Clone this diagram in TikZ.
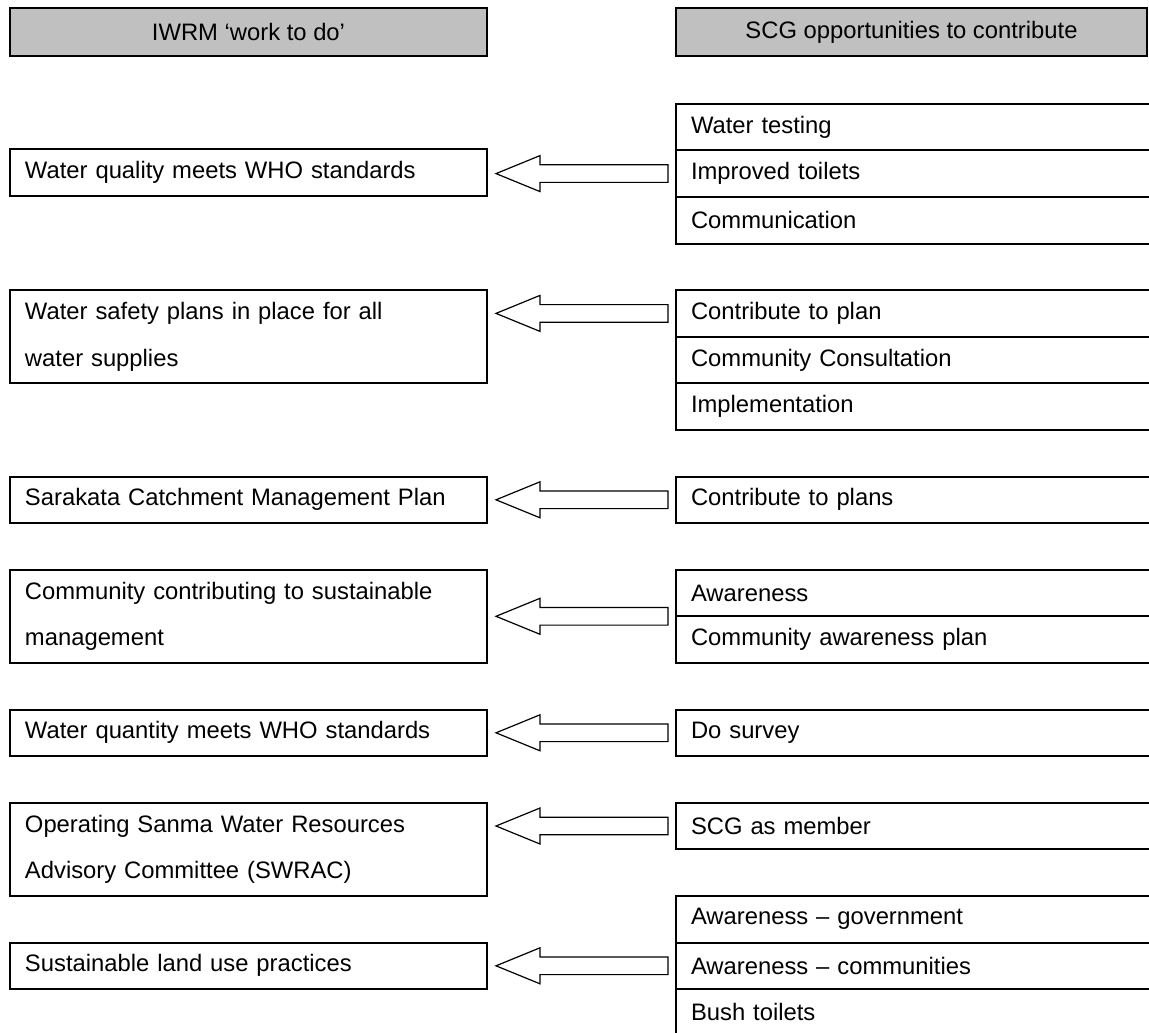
\documentclass[tikz,border=0pt]{standalone}
\usepackage{fontspec}
\setmainfont{Liberation Sans}
\usetikzlibrary{calc}
\definecolor{hdrgray}{HTML}{C0C0C0}
\newcommand\fatarrow[3]{%
  \draw[arrowline] let \p1=(#1.east), \p2=(#2.west), \p3=(#3) in
    (\x1+4pt,\y3) -- (\x1+26pt,\y3+9pt) -- (\x1+26pt,\y3+4.4pt)
    -- (\x2-3.5pt,\y3+4.4pt) -- (\x2-3.5pt,\y3-4.4pt)
    -- (\x1+26pt,\y3-4.4pt) -- (\x1+26pt,\y3-9pt) -- cycle;
}
\begin{document}
\begin{tikzpicture}[x=0.5pt,y=-0.5pt,
  txt/.style={font=\fontsize{11.9pt}{23.3pt}\selectfont},
  box/.style={txt,draw=black,line width=1pt,rectangle,anchor=north west,
    inner xsep=7.5pt,inner ysep=0pt,align=left},
  lbox/.style={box,text width=223.5pt,minimum height=#1},
  rbox/.style={box,text width=227.5pt,minimum height=23.3pt},
  hbox/.style={txt,draw=black,line width=1pt,fill=hdrgray,rectangle,
    anchor=north west,inner sep=0pt,minimum width=#1,minimum height=24pt,align=center},
  arrowline/.style={draw=black,line width=0.6pt,fill=white,line join=miter}
]
\useasboundingbox (0,0) rectangle (1149,1032);
\clip (0,0) rectangle (1149,1032);

% headers
\node[hbox=238.5pt] (H1) at (9,7) {IWRM ‘work to do’};
\node[hbox=235.5pt] (H2) at (675,7) {SCG opportunities to contribute};

% left column
\node[lbox=23.3pt] (L1) at (9,148) {Water quality meets WHO standards};
\node[lbox=46.6pt] (L2) at (9,289.1) {Water safety plans in place for all\\water supplies};
\node[lbox=23.3pt] (L3) at (9,475.5) {Sarakata Catchment Management Plan};
\node[lbox=46.6pt] (L4) at (9,568.7) {Community contributing to sustainable\\management};
\node[lbox=23.3pt] (L5) at (9,708.5) {Water quantity meets WHO standards};
\node[lbox=46.6pt] (L6) at (9,801.7) {Operating Sanma Water Resources\\Advisory Committee (SWRAC)};
\node[lbox=23.3pt] (L7) at (9,941.5) {Sustainable land use practices};

% right column
\node[rbox] (R1a) at (675,102.7) {Water testing};
\node[rbox] (R1b) at (675,149.3) {Improved toilets};
\node[rbox] (R1c) at (675,195.9) {Communication};

\node[rbox] (R2a) at (675,289.1) {Contribute to plan};
\node[rbox] (R2b) at (675,335.7) {Community Consultation};
\node[rbox] (R2c) at (675,382.3) {Implementation};

\node[rbox] (R3) at (675,475.5) {Contribute to plans};

\node[rbox] (R4a) at (675,568.7) {Awareness};
\node[rbox] (R4b) at (675,615.3) {Community awareness plan};

\node[rbox] (R5) at (675,708.5) {Do survey};

\node[rbox] (R6) at (675,801.7) {SCG as member};

\node[rbox] (R7a) at (675,894.9) {Awareness – government};
\node[rbox] (R7b) at (675,941.5) {Awareness – communities};
\node[rbox] (R7c) at (675,988.1) {Bush toilets};

% arrows
\fatarrow{L1}{R1b}{R1b.west}
\fatarrow{L2}{R2a}{R2a.west}
\fatarrow{L3}{R3}{R3.west}
\fatarrow{L4}{R4a}{L4.east}
\fatarrow{L5}{R5}{R5.west}
\fatarrow{L6}{R6}{R6.west}
\fatarrow{L7}{R7b}{R7b.west}
\end{tikzpicture}
\end{document}
